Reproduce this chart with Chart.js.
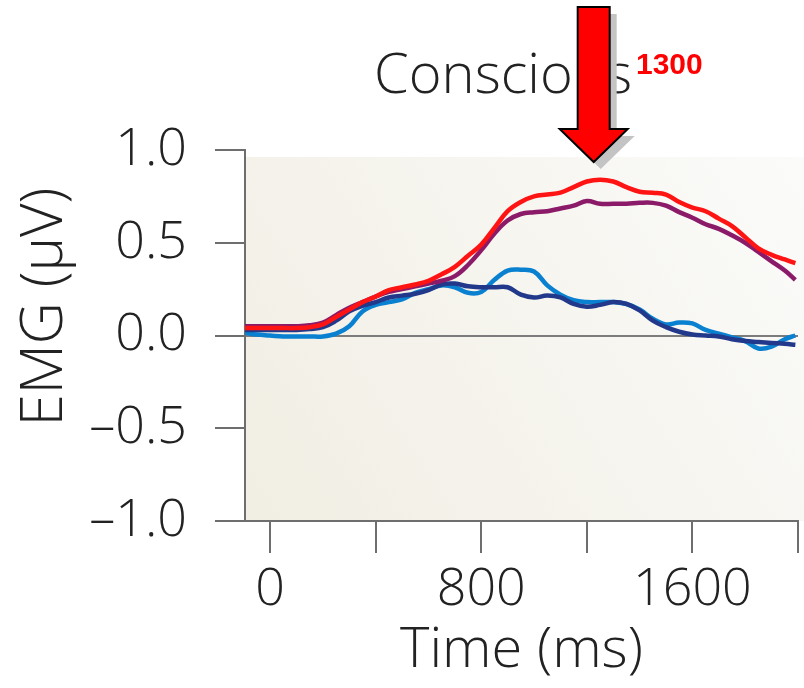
<!DOCTYPE html>
<html>
<head>
<meta charset="utf-8">
<title>Conscious – EMG</title>
<script src="https://cdn.jsdelivr.net/npm/chart.js@4.4.0/dist/chart.umd.min.js"></script>
<style>
  html, body { margin: 0; padding: 0; background: #fff; }
  #wrap { width: 804px; height: 688px; position: relative; }
</style>
</head>
<body>
<div id="wrap"><canvas id="emgChart"></canvas></div>
<script>
/* ── Data ─────────────────────────────────────────────── */
const times = [-95, -50, 0, 50, 100, 150, 200, 250, 300, 350, 400, 450, 500, 550, 600, 650,
  700, 750, 800, 850, 900, 950, 1000, 1050, 1100, 1150, 1200, 1250, 1300, 1350, 1400,
  1450, 1500, 1550, 1600, 1650, 1700, 1750, 1800, 1850, 1900, 1950, 1990];

const redValues = [0.04, 0.04, 0.04, 0.04, 0.04, 0.045, 0.06, 0.10, 0.14, 0.18, 0.21, 0.245,
  0.26, 0.275, 0.295, 0.33, 0.37, 0.43, 0.49, 0.58, 0.67, 0.72, 0.75, 0.76, 0.77, 0.80,
  0.83, 0.84, 0.83, 0.80, 0.775, 0.77, 0.76, 0.72, 0.69, 0.67, 0.63, 0.59, 0.53, 0.47,
  0.435, 0.41, 0.39];

const purpleValues = [0.05, 0.05, 0.05, 0.05, 0.05, 0.055, 0.07, 0.11, 0.15, 0.18, 0.21, 0.235,
  0.25, 0.265, 0.28, 0.295, 0.32, 0.38, 0.46, 0.55, 0.62, 0.655, 0.665, 0.67, 0.685, 0.70,
  0.725, 0.71, 0.71, 0.71, 0.715, 0.715, 0.70, 0.665, 0.635, 0.60, 0.575, 0.54, 0.50, 0.45,
  0.40, 0.35, 0.30];

const navyValues = [0.03, 0.03, 0.03, 0.03, 0.03, 0.035, 0.045, 0.08, 0.13, 0.16, 0.18, 0.205,
  0.215, 0.225, 0.245, 0.275, 0.28, 0.265, 0.26, 0.26, 0.26, 0.22, 0.205, 0.215, 0.205, 0.17,
  0.155, 0.165, 0.18, 0.17, 0.135, 0.08, 0.045, 0.02, 0.005, 0.0, -0.005, -0.02, -0.03, -0.035,
  -0.04, -0.045, -0.05];

const blueValues = [0.015, 0.005, 0.0, -0.005, -0.005, -0.005, -0.005, 0.01, 0.05, 0.13, 0.165,
  0.18, 0.195, 0.23, 0.25, 0.27, 0.26, 0.23, 0.235, 0.30, 0.35, 0.355, 0.345, 0.27, 0.22,
  0.19, 0.18, 0.18, 0.18, 0.17, 0.14, 0.09, 0.06, 0.07, 0.065, 0.03, 0.01, -0.01, -0.03,
  -0.07, -0.06, -0.02, 0.0];

const xTickValues = [0, 400, 800, 1200, 1600, 2000];
const xTickLabels = { 0: '0', 800: '800', 1600: '1600' };
const yTickValues = [-1.0, -0.5, 0.0, 0.5, 1.0];

const chartTitle = 'Conscious';
const xTitle = 'Time (ms)';
const yTitle = 'EMG (\u00b5V)';
const arrowAt = 1226;      // where the marker arrow points (ms)
const arrowLabel = '1300';

/* ── Helpers ──────────────────────────────────────────── */
const FONT = '"Open Sans", "DejaVu Sans", sans-serif';
const AXIS_GREY = '#6e6e6e';
const TEXT = '#222';

const toPoints = vals => vals.map((v, i) => ({ x: times[i], y: v }));

function lineSet(label, values, color) {
  return {
    label,
    data: toPoints(values),
    borderColor: color,
    borderWidth: 4.5,
    pointRadius: 0,
    tension: 0.4,
    fill: false,
  };
}

/* ── Plot background + overlays ───────────────────────── */
const backdrop = {
  id: 'backdrop',
  beforeDraw(chart) {
    const { ctx, chartArea: a, scales: { y } } = chart;
    const top = y.getPixelForValue(1.0) + 7;
    const right = chart.width;
    const g = ctx.createLinearGradient(a.left, a.bottom, right, top);
    g.addColorStop(0, '#f1eee3');
    g.addColorStop(0.55, '#f6f5ef');
    g.addColorStop(1, '#fbfbfa');
    ctx.save();
    ctx.fillStyle = g;
    ctx.fillRect(a.left, top, right - a.left, a.bottom - top);
    ctx.restore();
  },
  afterDraw(chart) {
    const { ctx, chartArea: a, scales: { x } } = chart;
    ctx.save();

    // title
    ctx.fillStyle = TEXT;
    ctx.font = '350 56px ' + FONT;
    ctx.textAlign = 'left';
    ctx.textBaseline = 'alphabetic';
    ctx.fillText(chartTitle, 374, 93);

    // y axis title, rotated
    ctx.save();
    ctx.translate(62, 307);
    ctx.rotate(-Math.PI / 2);
    ctx.textAlign = 'center';
    ctx.font = '350 58px ' + FONT;
    ctx.fillText(yTitle, 0, 0);
    ctx.restore();

    // arrow marker
    const cx = x.getPixelForValue(arrowAt);
    const tipY = a.top + 12;
    const shaftTop = 7, headTop = 129;
    const sw = 16, hw = 34;
    const arrowPath = (dx, dy) => {
      ctx.beginPath();
      ctx.moveTo(cx - sw + dx, shaftTop + dy);
      ctx.lineTo(cx + sw + dx, shaftTop + dy);
      ctx.lineTo(cx + sw + dx, headTop + dy);
      ctx.lineTo(cx + hw + dx, headTop + dy);
      ctx.lineTo(cx + dx, tipY + dy);
      ctx.lineTo(cx - hw + dx, headTop + dy);
      ctx.lineTo(cx - sw + dx, headTop + dy);
      ctx.closePath();
    };
    arrowPath(7, 7);
    ctx.fillStyle = '#c4c4c4';
    ctx.fill();
    arrowPath(0, 0);
    ctx.fillStyle = '#ff0000';
    ctx.fill();
    ctx.lineWidth = 2;
    ctx.strokeStyle = '#000';
    ctx.stroke();

    // arrow label
    ctx.fillStyle = '#ff0000';
    ctx.font = 'bold 30px "Liberation Sans", Arial, sans-serif';
    ctx.textAlign = 'left';
    ctx.fillText(arrowLabel, 636, 74);

    ctx.restore();
  }
};

/* ── Chart ────────────────────────────────────────────── */
new Chart(document.getElementById('emgChart'), {
  type: 'line',
  data: {
    datasets: [
      lineSet('red', redValues, '#ff1414'),
      lineSet('purple', purpleValues, '#8b1a68'),
      lineSet('navy', navyValues, '#22388a'),
      lineSet('blue', blueValues, '#0a80d0'),
    ]
  },
  options: {
    responsive: true,
    maintainAspectRatio: false,
    animation: false,
    layout: { padding: { top: 150, right: 4, left: 0, bottom: 0 } },
    plugins: {
      legend: { display: false },
      tooltip: { enabled: false },
    },
    scales: {
      x: {
        type: 'linear',
        min: -95,
        max: 2000,
        afterBuildTicks: s => { s.ticks = xTickValues.map(v => ({ value: v })); },
        afterFit: s => { s.height = 167; },
        grid: {
          drawOnChartArea: false,
          tickLength: 32,
          tickColor: AXIS_GREY,
          lineWidth: 2,
        },
        border: { color: AXIS_GREY, width: 2 },
        ticks: {
          color: TEXT,
          padding: 6,
          maxRotation: 0,
          autoSkip: false,
          font: { family: FONT, size: 52, weight: 350 },
          callback: v => xTickLabels[v] ?? '',
        },
        title: {
          display: true,
          text: xTitle,
          color: TEXT,
          font: { family: FONT, size: 56, weight: 350, lineHeight: 1.1 },
          padding: { top: 0, bottom: 6 },
        },
      },
      y: {
        min: -1,
        max: 1,
        afterBuildTicks: s => { s.ticks = yTickValues.map(v => ({ value: v })); },
        afterFit: s => { s.width = 245; },
        grid: {
          color: c => (c.tick && c.tick.value === 0 ? '#7c7c7c' : 'rgba(0,0,0,0)'),
          tickColor: AXIS_GREY,
          tickLength: 30,
          lineWidth: 2,
        },
        border: { color: AXIS_GREY, width: 2 },
        ticks: {
          color: TEXT,
          padding: 28,
          font: { family: FONT, size: 52, weight: 350 },
          callback: v => (v < 0 ? '\u2013' : '') + Math.abs(v).toFixed(1),
        },
      },
    },
  },
  plugins: [backdrop],
});
</script>
</body>
</html>
